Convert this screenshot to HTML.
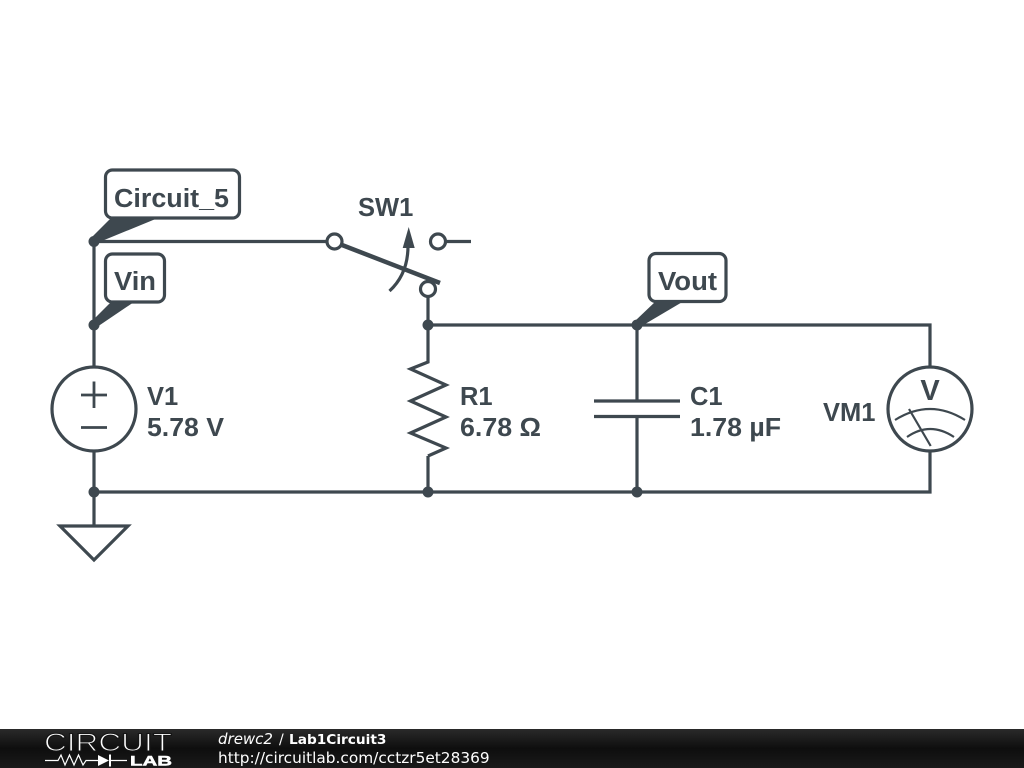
<!DOCTYPE html>
<html>
<head>
<meta charset="utf-8">
<style>
html,body{margin:0;padding:0;background:#fff;width:1024px;height:768px;overflow:hidden}
svg{display:block}
.t{font-family:"Liberation Sans",sans-serif;font-weight:bold;font-size:25.5px;fill:#3e484f}
.w{fill:none;stroke:#3e484f;stroke-width:3.2;stroke-linecap:butt;stroke-linejoin:miter}
.f{font-family:"DejaVu Sans",sans-serif;font-size:14px;fill:#fff}
</style>
</head>
<body>
<svg width="1024" height="768" viewBox="0 0 1024 768" xmlns="http://www.w3.org/2000/svg">
<defs>
<linearGradient id="g" x1="0" y1="0" x2="0" y2="1">
<stop offset="0" stop-color="#2a2a2a"/>
<stop offset="0.5" stop-color="#0e0e0e"/>
<stop offset="1" stop-color="#1a1a1a"/>
</linearGradient>
</defs>
<rect width="1024" height="768" fill="#fff"/>

<!-- wires -->
<path class="w" d="M94 241.500H327M94 241V367M94 451V526M94 492H930V451M428 296V361M428 325H930V367M428 456V492M637 325V401M637 416.5V492M445.500 241.500H471"/>

<!-- junctions -->
<g fill="#3e484f">
<circle cx="94" cy="241.500" r="5.500"/>
<circle cx="94" cy="325" r="5.500"/>
<circle cx="94" cy="492" r="5.500"/>
<circle cx="428" cy="325" r="5.500"/>
<circle cx="428" cy="492" r="5.500"/>
<circle cx="637" cy="325" r="5.500"/>
<circle cx="637" cy="492" r="5.500"/>
</g>

<!-- net labels -->
<rect class="w" x="105.500" y="170" width="134" height="48" rx="7" style="fill:#fff"/>
<text class="t" x="114" y="207" textLength="115" lengthAdjust="spacingAndGlyphs">Circuit_5</text>
<path d="M91 238L111 218H158L97 243Z" fill="#3e484f"/>
<rect class="w" x="105.500" y="254" width="59" height="48" rx="7" style="fill:#fff"/>
<text class="t" x="114" y="290" textLength="42" lengthAdjust="spacingAndGlyphs">Vin</text>
<path d="M91 322L111 302H134L97 327Z" fill="#3e484f"/>
<rect class="w" x="649" y="253.500" width="77" height="48" rx="7" style="fill:#fff"/>
<text class="t" x="658" y="290" textLength="59" lengthAdjust="spacingAndGlyphs">Vout</text>
<path d="M634 322L656 301H684L640 327Z" fill="#3e484f"/>

<!-- V1 -->
<circle class="w" cx="94" cy="409" r="42"/>
<path d="M81 395H107M94 381.500V408M81 427.500H107" fill="none" stroke="#3e484f" stroke-width="2.800"/>
<text class="t" x="147" y="405">V1</text>
<text class="t" x="147" y="436" textLength="77" lengthAdjust="spacingAndGlyphs">5.78 V</text>

<!-- ground -->
<path class="w" d="M60 526H128L94 560Z"/>

<!-- switch -->
<circle class="w" cx="334.500" cy="241.500" r="7.500"/>
<circle class="w" cx="438" cy="241.500" r="7.500"/>
<circle class="w" cx="428" cy="289" r="7.500"/>
<path d="M342 245L440 283" fill="none" stroke="#3e484f" stroke-width="4.500"/>
<path class="w" d="M389.500 291Q408 274 408 246"/>
<path d="M408.700 227L414.700 248H402.700Z" fill="#3e484f"/>
<text class="t" x="358" y="216">SW1</text>

<!-- R1 -->
<path class="w" d="M428 361V362L410.500 369L446 385L410.500 401L446 417L410.500 433L446 448L428 456"/>
<text class="t" x="460" y="405">R1</text>
<text class="t" x="460" y="436" textLength="81" lengthAdjust="spacingAndGlyphs">6.78 Ω</text>

<!-- C1 -->
<path class="w" d="M594 401H680M594 416.500H680"/>
<text class="t" x="690" y="405">C1</text>
<text class="t" x="690" y="436" textLength="91" lengthAdjust="spacingAndGlyphs">1.78 µF</text>

<!-- VM1 -->
<circle class="w" cx="930" cy="409" r="42"/>
<path d="M895 420Q930 398 965 420M907 437Q930 421 954 437M909 409L930.700 446" fill="none" stroke="#3e484f" stroke-width="2.200"/>
<text class="t" x="930" y="400" text-anchor="middle" style="font-size:29px">V</text>
<text class="t" x="823" y="421">VM1</text>

<!-- footer -->
<rect x="0" y="729" width="1024" height="39" fill="url(#g)"/>
<text x="44" y="751" font-family="Liberation Sans,sans-serif" font-size="25" fill="#fff" stroke="#151515" stroke-width="1.100" textLength="128" lengthAdjust="spacingAndGlyphs">CIRCUIT</text>
<path d="M45 760.500H58L61 755L65 765L69.500 755L74 765L78.500 755L83 765L86 760.500H98M111 760.500H127" fill="none" stroke="#fff" stroke-width="1.200"/>
<path d="M98 755L109 760.500L98 766Z" fill="#fff"/>
<path d="M110 754.500V766.500" stroke="#fff" stroke-width="2"/>
<text x="130" y="765.500" font-family="Liberation Sans,sans-serif" font-weight="bold" font-size="14" fill="#fff" stroke="#fff" stroke-width="0.500" textLength="42" lengthAdjust="spacingAndGlyphs">LAB</text>
<text class="f" x="218" y="744"><tspan font-style="italic" font-size="15">drewc2</tspan><tspan x="279">/</tspan><tspan x="289" font-weight="bold" font-size="13.700">Lab1Circuit3</tspan></text>
<text class="f" x="218" y="763" style="font-size:15.350px">http://circuitlab.com/cctzr5et28369</text>
</svg>
</body>
</html>
